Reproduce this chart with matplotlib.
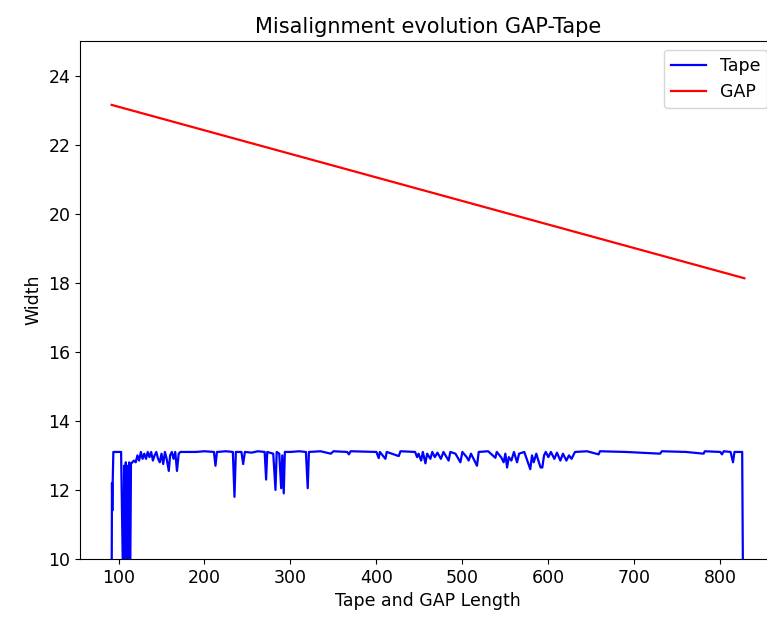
import matplotlib
matplotlib.use('Agg')
import matplotlib.pyplot as plt

# Tape width read along the length (values under 10 fall off the bottom)
tape_x = [92.0, 92.4, 92.8, 93.2, 94.0, 103.0, 104.0, 105.5, 106.5, 107.5, 108.5, 109.5,
          110.5, 111.5, 112.5, 113.5, 114.5, 116, 118, 120, 122, 124, 126, 128, 130, 132,
          134, 136, 138, 140, 142, 144, 146, 148, 150, 152, 154, 156, 158.5, 160, 162, 164,
          166, 168, 170, 172, 190, 200, 211, 212.8, 214.5, 225, 233, 234.9, 236.5, 243, 245,
          247, 255, 262, 270, 271.7, 273, 280, 282.6, 284, 287, 289.2, 290.5, 292.2, 293.5,
          300, 310, 318, 320.1, 321.5, 335, 347, 350, 366, 368, 370, 400, 402.7, 404, 410.5,
          412, 426, 428, 445, 447.3, 449, 452, 454, 457, 459, 462.8, 465, 468, 471, 475, 478,
          484, 486, 492, 497.7, 500, 505, 507.3, 510, 513, 517, 519, 530, 538.4, 540, 545,
          548, 550, 552, 554, 557, 560, 563.6, 566, 572, 579, 581, 583, 586, 589, 591, 593,
          595, 597, 600, 603, 607, 610, 614, 617, 621, 624, 627, 631, 645, 658.5, 660, 690,
          730, 732, 760, 780.6, 782, 800, 802, 804, 812, 814.8, 816.5, 825.5, 826.5]
tape_y = [9.0, 12.2, 11.4, 12.2, 13.1, 13.1, 11.5, 9.0, 12.7, 9.0, 12.8, 9.0,
          12.7, 9.0, 12.8, 9.0, 12.75, 12.8, 12.85, 12.8, 13.0, 12.85, 13.1, 12.9, 13.05, 12.9,
          13.1, 12.95, 13.1, 12.85, 13.0, 13.1, 12.9, 12.8, 13.05, 12.75, 13.1, 12.9, 12.55, 13.0, 13.1, 12.9,
          13.1, 12.55, 13.05, 13.1, 13.1, 13.12, 13.1, 12.7, 13.1, 13.12, 13.1, 11.8, 13.1, 13.1, 12.75,
          13.1, 13.08, 13.12, 13.1, 12.3, 13.1, 13.05, 12.0, 13.1, 13.05, 12.05, 13.0, 11.9, 13.1,
          13.1, 13.12, 13.1, 12.05, 13.1, 13.12, 13.05, 13.12, 13.1, 13.03, 13.12, 13.1, 12.92, 13.1, 12.9,
          13.1, 12.98, 13.12, 13.1, 12.95, 13.05, 12.85, 13.1, 12.77, 13.05, 12.9, 13.1, 12.95, 13.08, 12.9, 13.1,
          12.85, 13.1, 13.05, 12.8, 13.1, 12.95, 12.85, 13.05, 12.9, 12.7, 13.1, 13.12, 12.93, 13.1, 12.95,
          12.8, 13.05, 12.65, 12.95, 12.85, 13.1, 12.8, 13.05, 13.1, 12.6, 13.0, 12.8, 13.05, 12.8, 12.65, 12.65,
          13.0, 13.1, 12.95, 13.1, 12.9, 13.08, 12.85, 13.05, 12.85, 13.0, 12.9, 13.1, 13.12, 13.03, 13.12, 13.1,
          13.05, 13.12, 13.1, 13.05, 13.12, 13.1, 13.03, 13.12, 13.1, 12.8, 13.1, 13.1, 9.0]

# GAP width, straight line between both ends
gap_x = [92.0, 828.0]
gap_y = [23.15, 18.13]


def report():
    fig = plt.figure(figsize=(7.67, 6.25), dpi=100)
    # axes runs a bit past the right edge, like the cropped original
    ax = fig.add_axes([0.1043, 0.1056, 0.9074, 0.8288])

    ax.plot(tape_x, tape_y, color='blue', linewidth=1.6, label='Tape')
    ax.plot(gap_x, gap_y, color='red', linewidth=1.6, label='GAP')

    ax.set_ylim(10, 25)
    ax.set_xlim(55.2, 864.8)
    ax.set_title('Misalignment evolution GAP-Tape', fontsize=15)
    ax.set_xlabel('Tape and GAP Length', fontsize=12.5)
    ax.set_ylabel('Width', fontsize=12.5)
    ax.tick_params(labelsize=12.5)
    ax.legend(loc='upper right', fontsize=12.5)

    fig.savefig('out.png', dpi=100)


if __name__ == "__main__":
    report()
